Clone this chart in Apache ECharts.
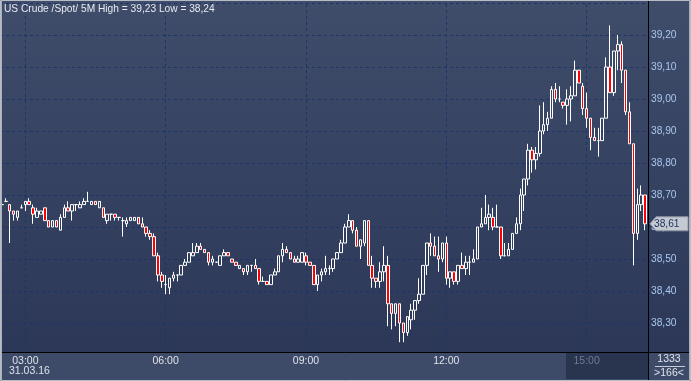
<!DOCTYPE html>
<html><head><meta charset="utf-8">
<script src="https://cdn.jsdelivr.net/npm/echarts@6/dist/echarts.min.js"></script>
<style>html,body{margin:0;padding:0;background:#2f3a58;overflow:hidden}#c{width:691px;height:381px}</style>
</head><body><div id="c"></div>
<script>
// 5-minute bars, 31.03.16, 02:30 .. 16:15
const categories = [
'02:30','02:35','02:40','02:45','02:50','02:55','03:00','03:05','03:10','03:15','03:20','03:25','03:30','03:35','03:40','03:45','03:50','03:55',
'04:00','04:05','04:10','04:15','04:20','04:25','04:30','04:35','04:40','04:45','04:50','04:55','05:00','05:05','05:10','05:15','05:20','05:25',
'05:30','05:35','05:40','05:45','05:50','05:55','06:00','06:05','06:10','06:15','06:20','06:25','06:30','06:35','06:40','06:45','06:50','06:55',
'07:00','07:05','07:10','07:15','07:20','07:25','07:30','07:35','07:40','07:45','07:50','07:55','08:00','08:05','08:10','08:15','08:20','08:25',
'08:30','08:35','08:40','08:45','08:50','08:55','09:00','09:05','09:10','09:15','09:20','09:25','09:30','09:35','09:40','09:45','09:50','09:55',
'10:00','10:05','10:10','10:15','10:20','10:25','10:30','10:35','10:40','10:45','10:50','10:55','11:00','11:05','11:10','11:15','11:20','11:25',
'11:30','11:35','11:40','11:45','11:50','11:55','12:00','12:05','12:10','12:15','12:20','12:25','12:30','12:35','12:40','12:45','12:50','12:55',
'13:00','13:05','13:10','13:15','13:20','13:25','13:30','13:35','13:40','13:45','13:50','13:55','14:00','14:05','14:10','14:15','14:20','14:25',
'14:30','14:35','14:40','14:45','14:50','14:55','15:00','15:05','15:10','15:15','15:20','15:25','15:30','15:35','15:40','15:45','15:50','15:55',
'16:00','16:05','16:10','16:15'];

const opens = [
38.67,38.68,38.67,38.65,38.63,38.66,38.67,38.68,38.66,38.63,38.64,38.66,38.62,38.60,38.62,38.59,38.63,38.66,38.65,38.67,
38.66,38.67,38.68,38.67,38.68,38.66,38.66,38.62,38.64,38.64,38.63,38.62,38.61,38.62,38.62,38.63,38.61,38.60,38.58,38.57,
38.51,38.45,38.42,38.41,38.44,38.45,38.45,38.48,38.49,38.51,38.52,38.54,38.53,38.52,38.49,38.49,38.48,38.51,38.52,38.50,
38.49,38.47,38.47,38.46,38.48,38.48,38.47,38.43,38.43,38.42,38.45,38.46,38.51,38.53,38.52,38.50,38.49,38.49,38.51,38.49,
38.48,38.42,38.45,38.46,38.47,38.47,38.50,38.52,38.55,38.60,38.62,38.59,38.54,38.55,38.62,38.48,38.44,38.43,38.46,38.48,
38.36,38.33,38.36,38.30,38.27,38.31,38.34,38.37,38.39,38.48,38.55,38.54,38.51,38.50,38.55,38.44,38.46,38.43,38.48,38.47,
38.49,38.49,38.50,38.60,38.61,38.63,38.63,38.60,38.60,38.51,38.51,38.53,38.58,38.61,38.70,38.75,38.84,38.81,38.83,38.90,
38.92,38.94,39.03,39.00,38.99,38.98,39.00,39.01,39.09,39.04,38.97,38.94,38.88,38.87,38.87,38.94,39.10,39.02,39.15,39.17,
39.09,38.96,38.86,38.58,38.67,38.70];
const closes = [
38.67,38.68,38.65,38.64,38.65,38.66,38.68,38.67,38.64,38.65,38.65,38.62,38.60,38.62,38.60,38.63,38.66,38.65,38.67,38.67,
38.67,38.68,38.68,38.68,38.67,38.68,38.63,38.64,38.64,38.63,38.63,38.62,38.62,38.63,38.63,38.61,38.60,38.58,38.57,38.51,
38.45,38.43,38.42,38.44,38.45,38.45,38.48,38.49,38.52,38.52,38.54,38.53,38.52,38.49,38.50,38.49,38.51,38.52,38.51,38.49,
38.48,38.48,38.46,38.48,38.48,38.47,38.43,38.43,38.42,38.45,38.46,38.51,38.53,38.52,38.50,38.49,38.50,38.52,38.49,38.48,
38.42,38.45,38.46,38.47,38.47,38.50,38.52,38.55,38.60,38.62,38.59,38.54,38.56,38.62,38.48,38.44,38.43,38.46,38.48,38.36,
38.33,38.36,38.30,38.27,38.32,38.34,38.37,38.39,38.48,38.55,38.54,38.51,38.50,38.55,38.44,38.46,38.43,38.48,38.47,38.49,
38.49,38.50,38.60,38.61,38.63,38.64,38.60,38.60,38.51,38.51,38.53,38.58,38.61,38.70,38.75,38.84,38.81,38.83,38.90,38.92,
38.94,39.03,39.00,39.00,38.98,39.00,39.01,39.09,39.05,38.97,38.94,38.88,38.87,38.87,38.94,39.10,39.02,39.15,39.17,39.09,
38.96,38.86,38.58,38.67,38.70,38.61];
const lows = [
38.67,38.68,38.55,38.62,38.62,38.66,38.65,38.67,38.61,38.63,38.64,38.62,38.60,38.60,38.60,38.59,38.63,38.65,38.62,38.65,
38.66,38.67,38.68,38.67,38.67,38.66,38.63,38.61,38.62,38.62,38.62,38.57,38.60,38.62,38.62,38.61,38.60,38.57,38.56,38.51,
38.43,38.41,38.39,38.39,38.43,38.43,38.45,38.48,38.49,38.51,38.52,38.53,38.52,38.48,38.48,38.49,38.48,38.51,38.51,38.49,
38.48,38.47,38.45,38.45,38.46,38.47,38.42,38.43,38.42,38.42,38.45,38.46,38.49,38.52,38.50,38.49,38.49,38.49,38.48,38.48,
38.42,38.40,38.43,38.45,38.45,38.46,38.50,38.52,38.55,38.60,38.58,38.54,38.50,38.54,38.48,38.41,38.41,38.41,38.43,38.29,
38.28,38.29,38.24,38.24,38.26,38.28,38.31,38.36,38.39,38.45,38.51,38.51,38.46,38.49,38.42,38.41,38.42,38.42,38.47,38.45,
38.45,38.49,38.50,38.60,38.61,38.59,38.59,38.60,38.50,38.51,38.51,38.53,38.58,38.59,38.65,38.73,38.77,38.78,38.82,38.89,
38.90,38.94,38.99,38.99,38.97,38.92,38.93,39.01,39.05,38.95,38.91,38.84,38.87,38.82,38.87,38.94,39.02,39.01,39.09,39.05,
38.95,38.86,38.48,38.56,38.65,38.59];
const highs = [
38.68,38.69,38.67,38.65,38.65,38.67,38.68,38.69,38.67,38.66,38.65,38.66,38.62,38.62,38.62,38.64,38.67,38.68,38.67,38.67,
38.68,38.69,38.71,38.68,38.68,38.68,38.66,38.64,38.64,38.64,38.63,38.63,38.63,38.63,38.63,38.63,38.63,38.60,38.59,38.58,
38.52,38.46,38.45,38.44,38.46,38.45,38.48,38.50,38.52,38.55,38.55,38.55,38.53,38.52,38.51,38.49,38.51,38.53,38.52,38.50,
38.49,38.48,38.47,38.48,38.48,38.50,38.47,38.445,38.43,38.45,38.47,38.51,38.55,38.54,38.52,38.51,38.51,38.52,38.52,38.49,
38.48,38.45,38.47,38.51,38.48,38.50,38.52,38.56,38.61,38.64,38.62,38.60,38.56,38.62,38.62,38.51,38.44,38.49,38.54,38.51,
38.36,38.36,38.36,38.30,38.32,38.36,38.37,38.44,38.48,38.55,38.58,38.57,38.57,38.55,38.57,38.46,38.46,38.48,38.52,38.51,
38.51,38.53,38.60,38.66,38.70,38.67,38.66,38.67,38.60,38.55,38.55,38.58,38.63,38.72,38.75,38.86,38.85,38.85,38.98,38.99,
38.96,39.04,39.05,39.04,38.99,39.03,39.04,39.12,39.09,39.05,39.02,38.94,38.91,38.91,38.94,39.13,39.23,39.15,39.20,39.18,
39.09,38.99,38.86,38.72,38.73,38.70];

const hourTicks = ['03:00','06:00','09:00','12:00','15:00'];
const dimmedTicks = ['15:00'];
const dateLabel = '31.03.16';
const titleText = 'US Crude /Spot/ 5M High = 39,23 Low = 38,24';
const lastPrice = 38.61;
const infoTop = '1333';
const infoBottom = '>166<';

const ohlc = opens.map((o, i) => [o, closes[i], lows[i], highs[i]]);
const fmt = v => v.toFixed(2).replace('.', ',');
const FONT = 'Liberation Sans, Arial, sans-serif';

const chart = echarts.init(document.getElementById('c'), null, {renderer: 'canvas'});
const gridLine = {color: '#1d3566', width: 1, type: [3, 3]};

chart.setOption({
  animation: false,
  backgroundColor: {type: 'linear', x: 0, y: 0, x2: 0, y2: 1,
    colorStops: [{offset: 0, color: '#3f4c6a'}, {offset: 1, color: '#2b3656'}]},
  grid: {left: 0, right: 44, top: 3, bottom: 26, containLabel: false},
  xAxis: {
    type: 'category', data: categories, boundaryGap: true, z: 30,
    axisLine: {show: false}, axisTick: {show: false}, splitLine: {show: false},
    axisLabel: {
      interval: (i, v) => hourTicks.indexOf(v) >= 0,
      margin: 0, fontSize: 10.5, fontFamily: FONT, verticalAlign: 'top', padding: [1, 0, 0, 0],
      color: (v) => dimmedTicks.indexOf(v) >= 0 ? '#6f7b94' : '#dfe3ea'
    }
  },
  yAxis: {
    type: 'value', position: 'right', min: 38.2, max: 39.3, interval: 0.1, scale: true,
    axisLine: {show: false}, axisTick: {show: false},
    splitLine: {show: true, lineStyle: gridLine},
    axisLabel: {showMinLabel: false, showMaxLabel: false, formatter: fmt, color: '#a8c8f0',
      fontSize: 10.2, fontFamily: FONT, margin: 4, align: 'left'}
  },
  series: [{
    type: 'line', data: [], z: 1, silent: true,
    markLine: {silent: true, symbol: ['none', 'none'], animation: false, z: 1,
      label: {show: false}, lineStyle: gridLine, emphasis: {disabled: true},
      data: hourTicks.map(t => ({xAxis: t}))}
  }, {
    type: 'candlestick', data: ohlc, barWidth: 3, z: 3,
    itemStyle: {color: 'rgba(0,0,0,0)', color0: '#ff0000', borderColor: '#ffffff',
      borderColor0: '#ffffff', borderWidth: 1}
  }]
});

const py = chart.convertToPixel({yAxisIndex: 0}, lastPrice);
const W = 691, H = 381;
chart.setOption({graphic: [
  {type: 'rect', z: 10, silent: true, shape: {x: 0, y: 352, width: 648, height: 29}, style: {fill: '#3e4b68'}},
  {type: 'rect', z: 11, silent: true, shape: {x: 566, y: 353, width: 82, height: 26}, style: {fill: '#29344f'}},
  {type: 'rect', z: 10, silent: true, shape: {x: 648, y: 352, width: 43, height: 29}, style: {fill: '#3e4b68'}},
  {type: 'line', z: 40, silent: true, shape: {x1: 0, y1: 352.5, x2: W, y2: 352.5}, style: {stroke: '#000', lineWidth: 1}},
  {type: 'line', z: 40, silent: true, shape: {x1: 648.5, y1: 0, x2: 648.5, y2: H}, style: {stroke: '#000', lineWidth: 1}},
  {type: 'text', z: 40, silent: true, x: 9, y: 366, style: {text: dateLabel, fill: '#dfe3ea', font: '10.5px ' + FONT}},
  {type: 'text', z: 40, silent: true, x: 669, y: 354, style: {text: infoTop, fill: '#dfe3ea', font: '10.5px ' + FONT, align: 'center'}},
  {type: 'line', z: 40, silent: true, shape: {x1: 655, y1: 366.5, x2: 685, y2: 366.5}, style: {stroke: '#c8ccd6', lineWidth: 1}},
  {type: 'text', z: 40, silent: true, x: 669, y: 368, style: {text: infoBottom, fill: '#dfe3ea', font: '10.5px ' + FONT, align: 'center'}},
  {type: 'polygon', z: 40, silent: true, shape: {points: [[650, py], [656, py - 7], [688, py - 7], [688, py + 7], [656, py + 7]]},
    style: {fill: '#c5c9d1', stroke: '#8e95a5', lineWidth: 1}},
  {type: 'text', z: 41, silent: true, x: 654, y: py, style: {text: fmt(lastPrice), fill: '#1c2f5c', font: '10.2px ' + FONT, verticalAlign: 'middle'}},
  {type: 'text', z: 40, silent: true, x: 4, y: 4, style: {text: titleText, fill: '#e8eaf0', font: '10.2px ' + FONT}},
  {type: 'rect', z: 50, silent: true, shape: {x: 0.5, y: 0.5, width: W - 1, height: H - 1}, style: {fill: 'none', stroke: '#b7bcc6', lineWidth: 1}},
  {type: 'line', z: 50, silent: true, shape: {x1: 1.5, y1: 0, x2: 1.5, y2: H}, style: {stroke: '#aab0bb', lineWidth: 1}},
  {type: 'line', z: 50, silent: true, shape: {x1: W - 1.5, y1: 0, x2: W - 1.5, y2: H}, style: {stroke: '#aab0bb', lineWidth: 1}}
]});
</script>
</body></html>
